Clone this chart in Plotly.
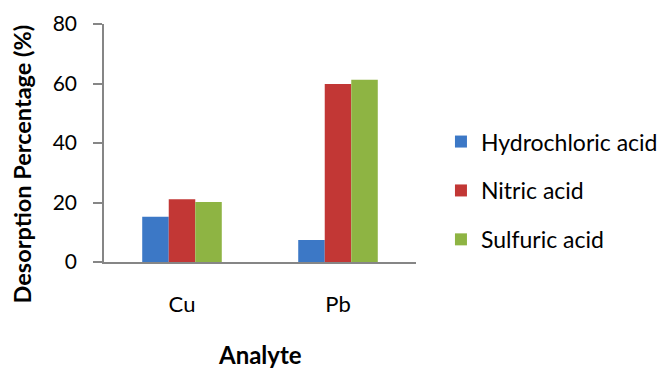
import plotly.graph_objects as go

categories = ["Cu", "Pb"]
hydrochloric = [15.2, 7.4]
nitric = [21.1, 59.8]
sulfuric = [20.2, 61.3]

series_names = ["Hydrochloric acid", "Nitric acid", "Sulfuric acid"]
colors = ["#3c78c6", "#c23735", "#8eb443"]

FONT = "Lato"

fig = go.Figure()
for i, (name, vals) in enumerate(zip(series_names, [hydrochloric, nitric, sulfuric])):
    fig.add_trace(go.Bar(
        x=categories, y=vals, name=name, legendgroup=name,
        marker=dict(color=colors[i], line=dict(width=0)),
    ))

fig.update_layout(
    width=670, height=369,
    margin=dict(l=104, r=254, t=24, b=107, autoexpand=False),
    paper_bgcolor="white", plot_bgcolor="white",
    barmode="group", bargap=0.49, bargroupgap=0,
    font=dict(family=FONT, size=20, color="#000000"),
    showlegend=True,
    legend=dict(x=1.08, y=0.30, xanchor="left", yanchor="middle",
                traceorder="grouped", tracegroupgap=16,
                font=dict(family=FONT, size=23, color="#000000"),
                itemwidth=30),
    xaxis=dict(
        showline=True, linecolor="#868686", linewidth=1.5,
        ticks="", tickfont=dict(size=22), showgrid=False,
        ticklabelstandoff=22, automargin=False,
    ),
    yaxis=dict(
        range=[0, 80], dtick=20, showline=True, linecolor="#868686", linewidth=1.5,
        ticks="outside", ticklen=9, tickcolor="#868686", tickwidth=1.5,
        ticklabelstandoff=12, automargin=False,
        showgrid=False, zeroline=False, tickfont=dict(size=21),
    ),
    annotations=[
        dict(text="<b>Analyte</b>", xref="paper", yref="paper",
             x=0.5, y=0, yshift=-92, xanchor="center", yanchor="middle",
             showarrow=False, font=dict(family=FONT, size=24, color="#000000")),
        dict(text="<b>Desorption Percentage (%)</b>", xref="paper", yref="paper",
             x=0, xshift=-82, y=0.41, xanchor="center", yanchor="middle",
             textangle=-90, showarrow=False,
             font=dict(family=FONT, size=23.5, color="#000000")),
    ],
)

fig.write_html("out.html")
